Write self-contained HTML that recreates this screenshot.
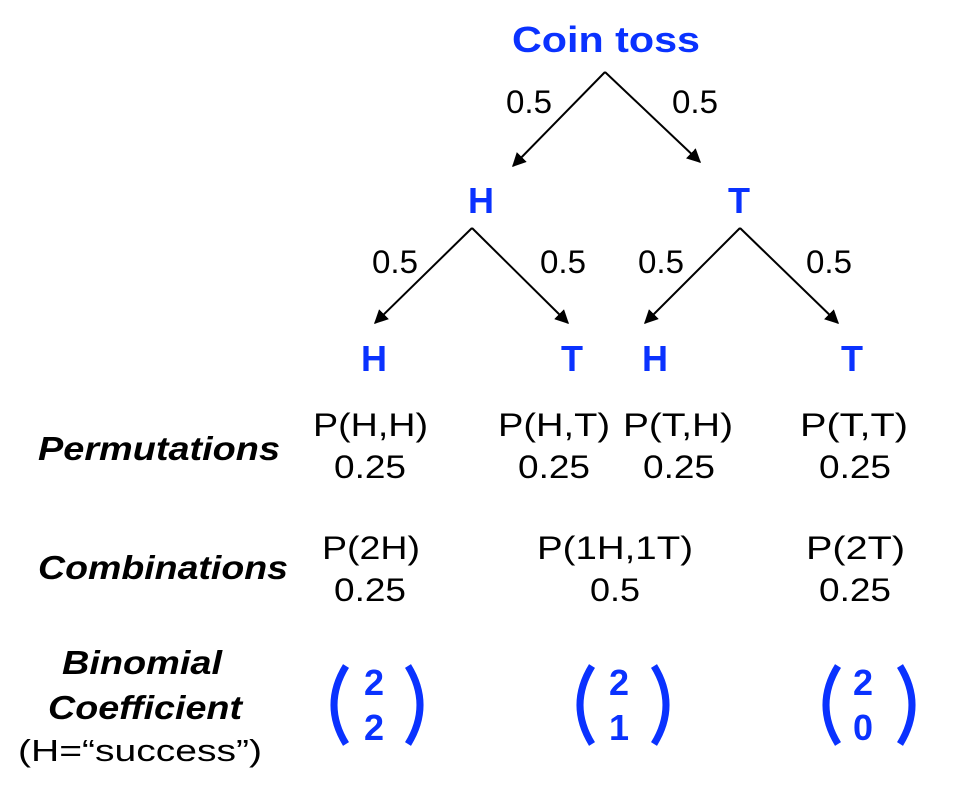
<!DOCTYPE html>
<html><head><meta charset="utf-8"><style>
html,body{margin:0;padding:0;background:#fff;}
svg{display:block;font-family:"Liberation Sans",Arial,sans-serif;}
.b{fill:#0a32ff;font-weight:bold;}
.k{fill:#000;font-size:32px;}
.lab{fill:#000;font-size:33px;font-weight:bold;font-style:italic;}
</style></head><body>
<svg width="972" height="800" viewBox="0 0 972 800">
<defs><marker id="ah" viewBox="0 0 10 10" refX="9" refY="5" markerWidth="7" markerHeight="7" orient="auto"><path d="M0,0 L10,5 L0,10 z" fill="#000"/></marker></defs>
<text class="b" x="512" y="52" font-size="36" textLength="188" lengthAdjust="spacingAndGlyphs">Coin toss</text>
<g stroke="#000" stroke-width="2" marker-end="url(#ah)">
<line x1="605" y1="72" x2="513" y2="166"/>
<line x1="605" y1="72" x2="700" y2="162"/>
<line x1="472" y1="228" x2="375" y2="323"/>
<line x1="472" y1="228" x2="568" y2="323"/>
<line x1="740" y1="228" x2="645" y2="323"/>
<line x1="740" y1="228" x2="838" y2="323"/>
</g>
<g class="k">
<text x="506" y="113" textLength="46" lengthAdjust="spacingAndGlyphs">0.5</text><text x="672" y="113" textLength="46" lengthAdjust="spacingAndGlyphs">0.5</text>
<text x="372" y="273" textLength="46" lengthAdjust="spacingAndGlyphs">0.5</text><text x="540" y="273" textLength="46" lengthAdjust="spacingAndGlyphs">0.5</text>
<text x="638" y="273" textLength="46" lengthAdjust="spacingAndGlyphs">0.5</text><text x="806" y="273" textLength="46" lengthAdjust="spacingAndGlyphs">0.5</text>
</g>
<g class="b" font-size="36" text-anchor="middle">
<text x="481" y="213">H</text><text x="739" y="213">T</text>
<text x="374" y="371">H</text><text x="572" y="371">T</text>
<text x="655" y="371">H</text><text x="852" y="371">T</text>
</g>
<text class="lab" x="38" y="460" textLength="242" lengthAdjust="spacingAndGlyphs">Permutations</text>
<g class="k" font-size="32">
<text x="313" y="436" textLength="115" lengthAdjust="spacingAndGlyphs">P(H,H)</text><text x="334" y="478" textLength="72" lengthAdjust="spacingAndGlyphs">0.25</text>
<text x="498" y="436" textLength="112" lengthAdjust="spacingAndGlyphs">P(H,T)</text><text x="518" y="478" textLength="72" lengthAdjust="spacingAndGlyphs">0.25</text>
<text x="623" y="436" textLength="110" lengthAdjust="spacingAndGlyphs">P(T,H)</text><text x="643" y="478" textLength="72" lengthAdjust="spacingAndGlyphs">0.25</text>
<text x="800" y="436" textLength="108" lengthAdjust="spacingAndGlyphs">P(T,T)</text><text x="819" y="478" textLength="72" lengthAdjust="spacingAndGlyphs">0.25</text>
</g>
<text class="lab" x="38" y="579" textLength="250" lengthAdjust="spacingAndGlyphs">Combinations</text>
<g class="k" font-size="32">
<text x="322" y="559" textLength="98" lengthAdjust="spacingAndGlyphs">P(2H)</text><text x="334" y="601" textLength="72" lengthAdjust="spacingAndGlyphs">0.25</text>
<text x="537" y="559" textLength="156" lengthAdjust="spacingAndGlyphs">P(1H,1T)</text><text x="590" y="601" textLength="50" lengthAdjust="spacingAndGlyphs">0.5</text>
<text x="806" y="559" textLength="99" lengthAdjust="spacingAndGlyphs">P(2T)</text><text x="819" y="601" textLength="72" lengthAdjust="spacingAndGlyphs">0.25</text>
</g>
<text class="lab" x="62" y="674" textLength="160" lengthAdjust="spacingAndGlyphs">Binomial</text>
<text class="lab" x="48" y="719" textLength="194" lengthAdjust="spacingAndGlyphs">Coefficient</text>
<text x="18" y="761" font-size="31" fill="#000" textLength="244" lengthAdjust="spacingAndGlyphs">(H=“success”)</text>
<g fill="none" stroke="#0a32ff" stroke-width="7">
<path d="M346,666 Q322,705 346,744"/><path d="M408,666 Q432,705 408,744"/>
<path d="M592,666 Q568,705 592,744"/><path d="M654,666 Q678,705 654,744"/>
<path d="M838,666 Q814,705 838,744"/><path d="M900,666 Q924,705 900,744"/>
</g>
<g class="b" font-size="36" text-anchor="middle">
<text x="374" y="695">2</text><text x="374" y="740">2</text>
<text x="619" y="695">2</text><text x="619" y="740">1</text>
<text x="863" y="695">2</text><text x="863" y="740">0</text>
</g>
</svg>
</body></html>
